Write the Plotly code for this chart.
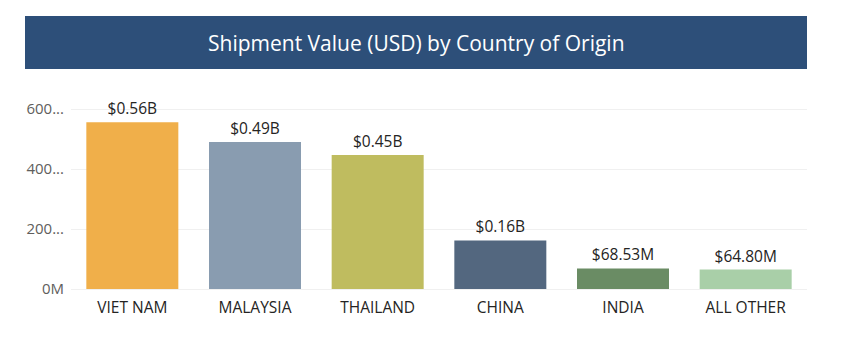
import plotly.graph_objects as go

countries = ["VIET NAM", "MALAYSIA", "THAILAND", "CHINA", "INDIA", "ALL OTHER"]
values_musd = [556, 490, 447, 162, 68.53, 64.80]
labels = ["$0.56B", "$0.49B", "$0.45B", "$0.16B", "$68.53M", "$64.80M"]
colors = ["#F0AF4A", "#899CB0", "#BFBC5F", "#53677F", "#6A8C64", "#A9CFA8"]
tick_vals = [0, 200, 400, 600]
tick_text = ["0M", "200...", "400...", "600..."]

font_family = "Open Sans, Noto Sans, sans-serif"

# page body has an 8px margin; figure coordinates are page coords minus 8
W, H = 833, 343
L, R, T, B = 63, 799, 92, 281
ph = B - T
pw = R - L

fig = go.Figure(go.Bar(
    x=countries, y=values_musd,
    marker=dict(color=colors, line=dict(width=0)),
    text=labels, textposition="outside", cliponaxis=False,
    textfont=dict(color="#252423", size=15.5, family=font_family),
    width=0.75,
))

fig.update_layout(
    width=W, height=H,
    margin=dict(l=L, r=W - R, t=T, b=H - B, pad=0),
    paper_bgcolor="white", plot_bgcolor="white",
    showlegend=False,
    font=dict(family=font_family),
    xaxis=dict(showgrid=False, showline=False, ticks="",
               tickfont=dict(color="#252423", size=15.5),
               ticklabelstandoff=7),
    yaxis=dict(range=[0, 630], tickvals=tick_vals, ticktext=tick_text,
               showgrid=True, gridcolor="#F0F0F0", gridwidth=1,
               zeroline=True, zerolinecolor="#F0F0F0", zerolinewidth=1,
               tickfont=dict(color="#605E5C", size=15), ticks="",
               ticklabelstandoff=6),
    shapes=[dict(type="rect", xref="paper", yref="paper",
                 x0=(17 - L) / pw, x1=1.0,
                 y0=1 + (T - 61) / ph, y1=1 + (T - 8) / ph,
                 fillcolor="#2D4F79", line=dict(width=0), layer="above")],
    annotations=[dict(text="Shipment Value (USD) by Country of Origin",
                      xref="paper", yref="paper",
                      x=(408 - L) / pw, y=1 + (T - 35) / ph,
                      xanchor="center", yanchor="middle", showarrow=False,
                      font=dict(color="white", size=21, family=font_family))],
)

fig.write_html("out.html")
